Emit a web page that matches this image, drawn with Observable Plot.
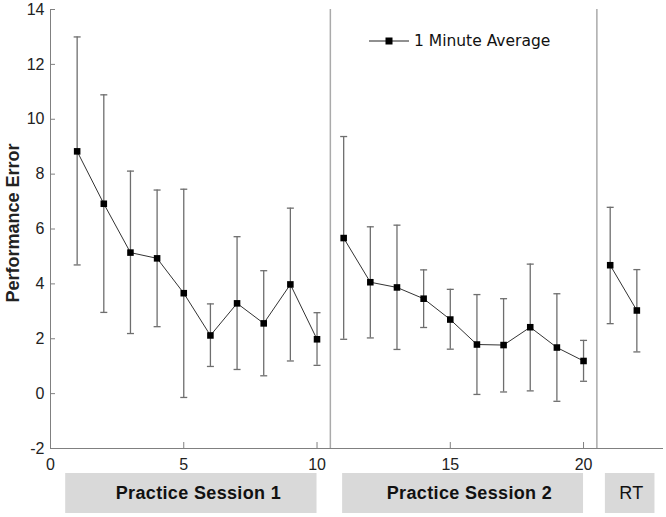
<!DOCTYPE html>
<html><head><meta charset="utf-8">
<script src="https://cdn.jsdelivr.net/npm/d3@7"></script>
<script src="https://cdn.jsdelivr.net/npm/@observablehq/plot@0.6"></script>
<style>
html,body{margin:0;padding:0;background:#fff;}
#wrap{position:relative;width:666px;height:517px;}
#legend{position:absolute;left:369px;top:32px;height:18px;display:flex;align-items:center;font-family:"DejaVu Sans",sans-serif;font-size:15.5px;color:#111;line-height:18px;}
#legend span{margin-left:5px;}
#band text{letter-spacing:0.35px;}
svg{display:block;}
</style></head><body>
<div id="wrap"><div id="chart"></div><div id="band"></div><div id="legend"></div></div>
<script>
// ---- data ----
const minutes = [1,2,3,4,5,6,7,8,9,10,11,12,13,14,15,16,17,18,19,20,21,22];
const means = [8.83,6.92,5.14,4.93,3.66,2.12,3.29,2.56,3.98,1.98, 5.67,4.06,3.87,3.46,2.70,1.79,1.77,2.42,1.68,1.19, 4.68,3.03];
const upper = [13.0,10.89,8.11,7.42,7.45,3.27,5.72,4.48,6.76,2.95, 9.37,6.08,6.14,4.51,3.80,3.61,3.46,4.72,3.64,1.94, 6.79,4.52];
const lower = [4.69,2.96,2.19,2.44,-0.14,0.99,0.88,0.65,1.19,1.03, 1.98,2.03,1.61,2.41,1.62,-0.03,0.06,0.10,-0.28,0.45, 2.55,1.52];
const sessionOf = ["S1","S1","S1","S1","S1","S1","S1","S1","S1","S1","S2","S2","S2","S2","S2","S2","S2","S2","S2","S2","RT","RT"];
const separators = [10.5, 20.5];
const xTicks = [0,5,10,15,20];
const yTicks = [-2,0,2,4,6,8,10,12,14];
const sessionNames = ["Practice Session 1","Practice Session 2","RT"];
const sessionStart = [0.57, 10.96, 20.82];
const sessionEnd = [10.0, 20.0, 22.68];
const sessionLabelX = [5.55, 15.72, 21.8];
const sessionBold = [true, true, false];
const yLabel = "Performance Error";
const legendLabel = "1 Minute Average";

const rows = minutes.map((m,i)=>({minute:m, mean:means[i], lo:lower[i], hi:upper[i], session:sessionOf[i]}));
const sessions = sessionNames.map((n,i)=>({name:n, start:sessionStart[i], end:sessionEnd[i], lx:sessionLabelX[i], bold:sessionBold[i]}));

const cap = {draw(ctx){ctx.moveTo(-3.5,0);ctx.lineTo(3.5,0);}};
const fmt = d => String(d);

const chart = Plot.plot({
  width:666, height:472,
  marginLeft:50, marginRight:3, marginTop:9, marginBottom:24,
  x:{domain:[0,23]},
  y:{domain:[-2,14]},
  style:{fontFamily:"'Liberation Sans', Arial, sans-serif", fontSize:"16px", color:"#222", background:"white"},
  marks:[
    Plot.ruleX(separators, {stroke:"#aaa", strokeWidth:1.5}),
    Plot.ruleX([0], {stroke:"#808080"}),
    Plot.ruleY([-2], {stroke:"#808080"}),
    Plot.axisX({ticks:xTicks, tickFormat:fmt, tickSize:-6, tickPadding:16, label:null, stroke:"#808080", fill:"#222"}),
    Plot.axisY({ticks:yTicks, tickFormat:fmt, tickSize:-5, tickPadding:11, label:null, stroke:"#808080", fill:"#222"}),
    Plot.ruleX(rows, {x:"minute", y1:"lo", y2:"hi", stroke:"#6e6e6e", strokeWidth:1.3}),
    Plot.dot(rows, {x:"minute", y:"hi", symbol:cap, stroke:"#6e6e6e", strokeWidth:1.3}),
    Plot.dot(rows, {x:"minute", y:"lo", symbol:cap, stroke:"#6e6e6e", strokeWidth:1.3}),
    Plot.line(rows, {x:"minute", y:"mean", z:"session", stroke:"#333", strokeWidth:1}),
    Plot.dot(rows, {x:"minute", y:"mean", symbol:"square", fill:"#000", r:3.7}),
    Plot.text([yLabel], {text:d=>d, frameAnchor:"left", textAnchor:"middle", rotate:-90, dx:-37, dy:-6, fontWeight:"bold", fontSize:18, fill:"#222"})
  ]
});
document.getElementById("chart").appendChild(chart);

const band = Plot.plot({
  width:666, height:42,
  marginLeft:50, marginRight:3, marginTop:1, marginBottom:1,
  x:{domain:[0,23], axis:null},
  style:{fontFamily:"'Liberation Sans', Arial, sans-serif", fontSize:"18px", color:"#111", background:"white"},
  marks:[
    Plot.rect(sessions, {x1:"start", x2:"end", fill:"#d9d9d9"}),
    Plot.text(sessions.filter(d=>d.bold), {x:"lx", text:"name", frameAnchor:"middle", fontWeight:"bold", fontSize:18, fill:"#111"}),
    Plot.text(sessions.filter(d=>!d.bold), {x:"lx", text:"name", frameAnchor:"middle", fontSize:18, fill:"#111"})
  ]
});
document.getElementById("band").appendChild(band);

const lg = document.getElementById("legend");
lg.innerHTML = '<svg width="40" height="10"><line x1="0" x2="40" y1="5" y2="5" stroke="#222" stroke-width="1.2"/><rect x="16.5" y="1.5" width="7" height="7" fill="#000"/></svg><span></span>';
lg.querySelector("span").textContent = legendLabel;
</script>
</body></html>
